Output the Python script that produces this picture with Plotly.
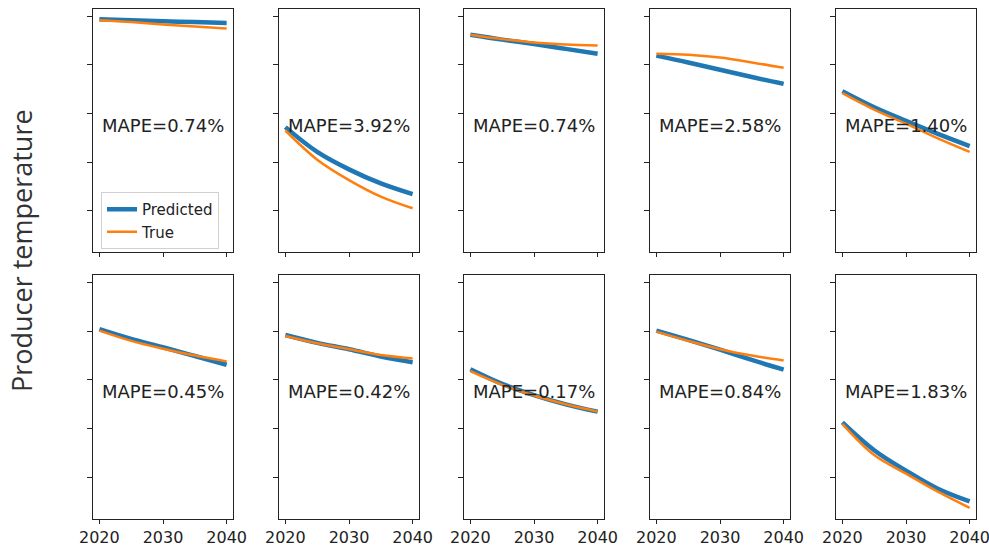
import plotly.graph_objects as go
from plotly.subplots import make_subplots

# ---- data (y in relative temperature units) ----
years = [2020, 2025, 2030, 2035, 2040]

pred_1 = [3.94, 3.92, 3.90, 3.88, 3.86]
true_1 = [3.92, 3.88, 3.83, 3.79, 3.75]
pred_2 = [1.72, 1.21, 0.85, 0.56, 0.34]
true_2 = [1.65, 1.05, 0.63, 0.29, 0.05]
pred_3 = [3.62, 3.52, 3.43, 3.33, 3.23]
true_3 = [3.62, 3.53, 3.46, 3.42, 3.40]
pred_4 = [3.19, 3.05, 2.90, 2.75, 2.61]
true_4 = [3.23, 3.21, 3.15, 3.05, 2.94]
pred_5 = [2.46, 2.13, 1.85, 1.58, 1.33]
true_5 = [2.42, 2.08, 1.79, 1.49, 1.21]
pred_6 = [3.04, 2.84, 2.67, 2.49, 2.31]
true_6 = [3.01, 2.80, 2.64, 2.50, 2.38]
pred_7 = [2.92, 2.76, 2.63, 2.48, 2.36]
true_7 = [2.90, 2.75, 2.63, 2.51, 2.44]
pred_8 = [2.22, 1.92, 1.69, 1.50, 1.35]
true_8 = [2.18, 1.90, 1.68, 1.50, 1.35]
pred_9 = [3.01, 2.82, 2.62, 2.41, 2.21]
true_9 = [2.99, 2.80, 2.63, 2.50, 2.40]
pred_10 = [1.13, 0.56, 0.14, -0.23, -0.49]
true_10 = [1.10, 0.46, 0.08, -0.29, -0.62]

predicted = [pred_1, pred_2, pred_3, pred_4, pred_5, pred_6, pred_7, pred_8, pred_9, pred_10]
true_vals = [true_1, true_2, true_3, true_4, true_5, true_6, true_7, true_8, true_9, true_10]
mape_labels = ["0.74%", "3.92%", "0.74%", "2.58%", "1.40%",
               "0.45%", "0.42%", "0.17%", "0.84%", "1.83%"]
x_tick_vals = [2020, 2030, 2040]
y_tick_vals = [0, 1, 2, 3, 4]
y_title = "Producer temperature"

# ---- layout geometry ----
W, H = 989, 546
col_left_px = [93, 279, 464, 650, 836]
col_width_px = 140
row_top_px = [9, 275]
row_bottom_px = [252, 519]

BLUE = "#1f77b4"
ORANGE = "#ff7f0e"
FONT = "DejaVu Sans"

fig = make_subplots(rows=2, cols=5)

for i in range(10):
    r = i // 5 + 1
    c = i % 5 + 1
    fig.add_trace(go.Scatter(x=years, y=predicted[i], mode="lines",
                             line=dict(color=BLUE, width=4.5, shape="spline"),
                             name="Predicted", showlegend=(i == 0)), row=r, col=c)
    fig.add_trace(go.Scatter(x=years, y=true_vals[i], mode="lines",
                             line=dict(color=ORANGE, width=2.5, shape="spline"),
                             name="True", showlegend=(i == 0)), row=r, col=c)
    fig.add_annotation(x=2030, y=1.76, text="MAPE=" + mape_labels[i], showarrow=False,
                       font=dict(family=FONT, size=18, color="#222"),
                       xanchor="center", yanchor="middle", row=r, col=c)

for i in range(10):
    r = i // 5
    c = i % 5
    n = "" if i == 0 else str(i + 1)
    x0 = col_left_px[c] / W
    x1 = (col_left_px[c] + col_width_px) / W
    y0 = 1 - row_bottom_px[r] / H
    y1 = 1 - row_top_px[r] / H
    fig.layout["xaxis" + n].update(
        domain=[x0, x1], range=[2019, 2041], tickvals=x_tick_vals,
        showticklabels=(r == 1), ticks="outside", ticklen=4, tickwidth=1.2,
        tickcolor="#222", showline=True, mirror=True, linecolor="#222", linewidth=1.3,
        showgrid=False, zeroline=False, automargin=False, ticklabeloverflow="allow",
        tickfont=dict(family=FONT, size=16, color="#222"))
    fig.layout["yaxis" + n].update(
        domain=[y0, y1], range=[-0.85, 4.15], tickvals=y_tick_vals,
        showticklabels=False, ticks="outside", ticklen=5, tickwidth=1.2,
        tickcolor="#222", showline=True, mirror=True, linecolor="#222", linewidth=1.3,
        showgrid=False, zeroline=False, automargin=False)

fig.add_annotation(x=22 / W, y=1 - 251 / H, xref="paper", yref="paper",
                   text=y_title, textangle=-90, showarrow=False,
                   font=dict(family="Open Sans", size=27, color="#333"),
                   xanchor="center", yanchor="middle")

fig.update_layout(
    width=W, height=H, margin=dict(l=0, r=0, t=0, b=0, autoexpand=False),
    paper_bgcolor="white", plot_bgcolor="white",
    legend=dict(x=101 / W, y=1 - 192 / H, xanchor="left", yanchor="top",
                bgcolor="rgba(255,255,255,0.85)", bordercolor="#d0d0d0", borderwidth=1,
                font=dict(family=FONT, size=15, color="#222"),
                itemwidth=30, tracegroupgap=0),
)

fig.write_html("out.html", config={"displayModeBar": False},
               post_script="document.body.style.margin='0';document.body.style.overflow='hidden';")
